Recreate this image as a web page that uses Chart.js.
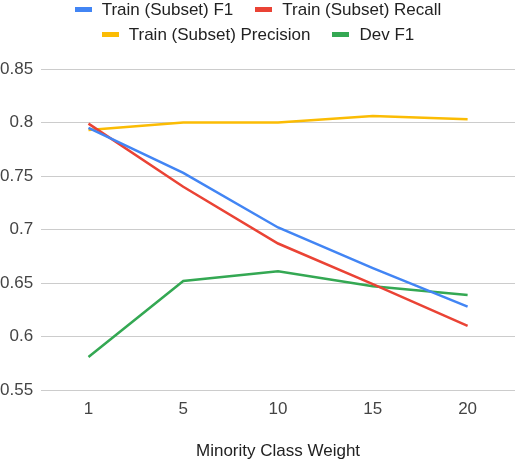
<!DOCTYPE html>
<html>
<head>
<meta charset="utf-8">
<script src="https://cdn.jsdelivr.net/npm/chart.js@4/dist/chart.umd.min.js"></script>
<style>
    html, body { margin: 0; padding: 0; background: #fff; }
    #wrap { position: relative; width: 516px; height: 460px; }
    #legend {
        position: absolute; left: 0; top: 1px; width: 516px;
        font-family: "Liberation Sans", Arial, sans-serif;
        font-size: 17px; line-height: 17px; color: #222;
    }
    #legend .row { display: flex; justify-content: center; margin-bottom: 8px; }
    #legend .item { display: flex; align-items: center; margin: 0 11px; white-space: nowrap; }
    #legend .box { width: 17px; height: 5px; margin-right: 10px; }
</style>
</head>
<body>
<div id="wrap">
    <canvas id="weightChart"></canvas>
    <div id="legend"></div>
</div>
<script>
// 数据
const weights = ['1', '5', '10', '15', '20'];
const trainF1 = [0.795, 0.753, 0.702, 0.664, 0.628];
const trainRecall = [0.799, 0.740, 0.687, 0.649, 0.610];
const trainPrecision = [0.793, 0.800, 0.800, 0.806, 0.803];
const devF1 = [0.581, 0.652, 0.661, 0.647, 0.639];
const yTicks = [0.55, 0.6, 0.65, 0.7, 0.75, 0.8, 0.85];
const legendRows = [[0, 1], [2, 3]];

const FONT = '"Liberation Sans", Arial, sans-serif';

function line(label, data, color) {
    return {
        label: label,
        data: data,
        borderColor: color,
        backgroundColor: color,
        borderWidth: 2.5,
        pointRadius: 0,
        tension: 0
    };
}

const chart = new Chart(document.getElementById('weightChart'), {
    type: 'line',
    data: {
        labels: weights,
        datasets: [
            line('Train (Subset) F1', trainF1, '#4285f4'),
            line('Train (Subset) Recall', trainRecall, '#ea4335'),
            line('Train (Subset) Precision', trainPrecision, '#fbbc04'),
            line('Dev F1', devF1, '#34a853')
        ]
    },
    options: {
        responsive: true,
        maintainAspectRatio: false,
        animation: false,
        layout: { padding: { top: 69, right: 1, bottom: -2, left: -8 } },
        plugins: {
            legend: { display: false },
            tooltip: { enabled: false }
        },
        scales: {
            x: {
                offset: true,
                grid: { display: false },
                border: { display: false },
                ticks: { color: '#444', padding: 1, font: { family: FONT, size: 17 } },
                title: {
                    display: true,
                    text: 'Minority Class Weight',
                    color: '#222',
                    padding: { top: 21, bottom: 0 },
                    font: { family: FONT, size: 17 }
                }
            },
            y: {
                min: 0.55,
                max: 0.85,
                afterBuildTicks(axis) {
                    axis.ticks = yTicks.map(v => ({ value: v }));
                },
                grid: { color: '#cccccc', lineWidth: 1, drawTicks: false },
                border: { display: false },
                ticks: {
                    color: '#444',
                    padding: 8,
                    font: { family: FONT, size: 17 },
                    callback: v => String(Number(v.toFixed(2)))
                }
            }
        }
    }
});

// HTML图例，两行
const legendEl = document.getElementById('legend');
legendRows.forEach(row => {
    const rowEl = document.createElement('div');
    rowEl.className = 'row';
    row.forEach(i => {
        const ds = chart.data.datasets[i];
        const item = document.createElement('div');
        item.className = 'item';
        const box = document.createElement('span');
        box.className = 'box';
        box.style.background = ds.borderColor;
        const txt = document.createElement('span');
        txt.textContent = ds.label;
        item.appendChild(box);
        item.appendChild(txt);
        rowEl.appendChild(item);
    });
    legendEl.appendChild(rowEl);
});
</script>
</body>
</html>
